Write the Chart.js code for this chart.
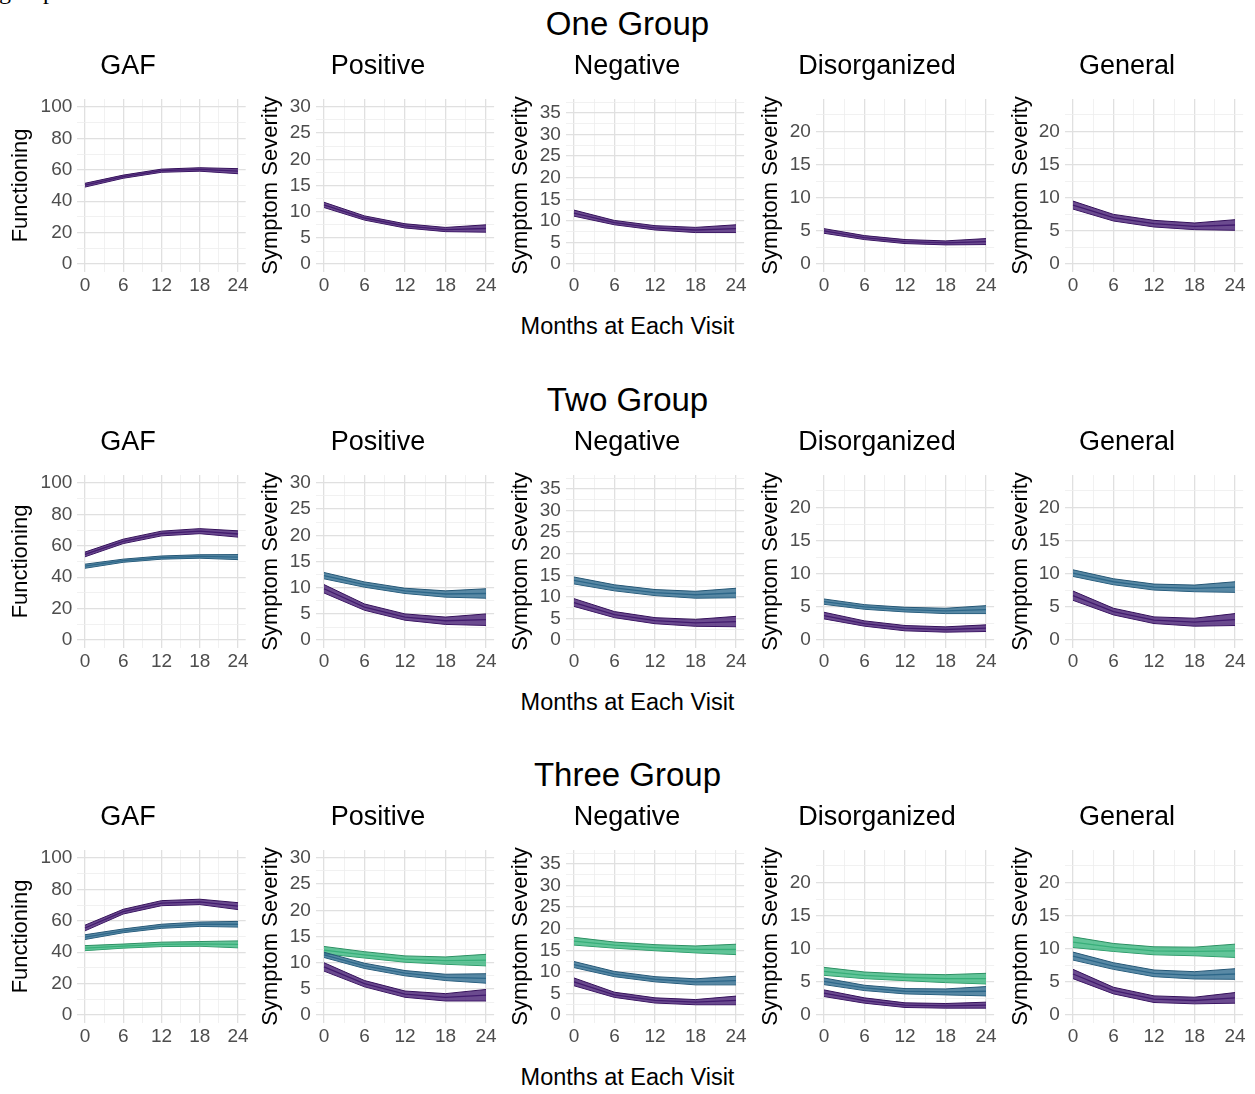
<!DOCTYPE html>
<html><head><meta charset="utf-8">
<script src="https://cdn.jsdelivr.net/npm/chart.js@4.4.0/dist/chart.umd.min.js"></script>
<style>
html,body{margin:0;padding:0;background:#fff;}
body{width:1255px;height:1094px;position:relative;overflow:hidden;font-family:"Liberation Sans",Arial,sans-serif;}
canvas{position:absolute;}
.gt{position:absolute;left:0;width:1255px;text-align:center;font-size:33px;color:#000;line-height:1;white-space:nowrap;}
.xt{position:absolute;left:0;width:1255px;text-align:center;font-size:23.5px;color:#000;line-height:1;white-space:nowrap;}
.cut{position:absolute;left:-1px;top:-21px;font-family:"Liberation Serif","Times New Roman",serif;font-size:24px;line-height:1;color:#000;}
</style></head><body>
<div class="cut">group</div>
<script>
// ---------- data ----------
const months = [0, 6, 12, 18, 24];
const xTicks = [0, 3, 6, 9, 12, 15, 18, 21, 24];
const xTickLabels = [0, 6, 12, 18, 24];
const groupTitles = ['One Group', 'Two Group', 'Three Group'];
const panelNames = ['GAF', 'Positive', 'Negative', 'Disorganized', 'General'];
const yAxisTitles = ['Functioning', 'Symptom Severity', 'Symptom Severity', 'Symptom Severity', 'Symptom Severity'];
const xAxisTitle = 'Months at Each Visit';

const gafTicks = [0, 20, 40, 60, 80, 100];
const posTicks = [0, 5, 10, 15, 20, 25, 30];
const negTicks = [0, 5, 10, 15, 20, 25, 30, 35];
const disTicks = [0, 5, 10, 15, 20];
const genTicks = [0, 5, 10, 15, 20];

// One Group
const one_GAF_g1 = [50.2, 55.6, 59.4, 60.2, 59.1];       const one_GAF_g1_ci = [1.2, 1.0, 1.0, 1.1, 1.6];
const one_Pos_g1 = [11.3, 8.8, 7.3, 6.6, 6.8];           const one_Pos_g1_ci = [0.5, 0.4, 0.4, 0.4, 0.7];
const one_Neg_g1 = [11.8, 9.6, 8.4, 7.9, 8.2];           const one_Neg_g1_ci = [0.7, 0.5, 0.5, 0.6, 0.9];
const one_Dis_g1 = [5.0, 4.0, 3.4, 3.2, 3.4];            const one_Dis_g1_ci = [0.35, 0.3, 0.3, 0.3, 0.45];
const one_Gen_g1 = [8.9, 7.0, 6.1, 5.7, 5.9];            const one_Gen_g1_ci = [0.6, 0.5, 0.5, 0.5, 0.8];

// Two Group
const two_GAF_g1 = [54.5, 62.8, 67.8, 69.3, 67.5];       const two_GAF_g1_ci = [1.5, 1.4, 1.5, 1.6, 2.0];
const two_GAF_g2 = [47.0, 50.5, 52.5, 53.2, 52.8];       const two_GAF_g2_ci = [1.3, 1.0, 1.0, 1.1, 1.6];
const two_Pos_g1 = [9.8, 6.3, 4.4, 3.7, 3.9];            const two_Pos_g1_ci = [0.8, 0.6, 0.6, 0.7, 1.1];
const two_Pos_g2 = [12.3, 10.6, 9.4, 8.8, 8.9];          const two_Pos_g2_ci = [0.6, 0.5, 0.5, 0.6, 0.9];
const two_Neg_g1 = [8.7, 5.9, 4.5, 4.0, 4.3];            const two_Neg_g1_ci = [0.9, 0.7, 0.7, 0.8, 1.2];
const two_Neg_g2 = [13.8, 12.1, 11.0, 10.5, 10.9];       const two_Neg_g2_ci = [0.8, 0.7, 0.7, 0.8, 1.1];
const two_Dis_g1 = [3.7, 2.5, 1.8, 1.6, 1.8];            const two_Dis_g1_ci = [0.5, 0.4, 0.4, 0.4, 0.5];
const two_Dis_g2 = [5.8, 5.0, 4.6, 4.4, 4.6];            const two_Dis_g2_ci = [0.4, 0.35, 0.35, 0.4, 0.6];
const two_Gen_g1 = [6.7, 4.3, 3.0, 2.7, 3.1];            const two_Gen_g1_ci = [0.7, 0.5, 0.5, 0.6, 0.9];
const two_Gen_g2 = [10.1, 8.8, 8.0, 7.8, 8.0];           const two_Gen_g2_ci = [0.5, 0.45, 0.45, 0.5, 0.8];

// Three Group
const three_GAF_g1 = [55.4, 65.8, 71.2, 72.0, 69.3];     const three_GAF_g1_ci = [1.8, 1.5, 1.6, 1.7, 2.2];
const three_GAF_g2 = [49.6, 53.6, 56.5, 57.8, 57.8];     const three_GAF_g2_ci = [1.5, 1.2, 1.3, 1.4, 1.8];
const three_GAF_g3 = [42.6, 43.9, 45.0, 45.3, 45.0];     const three_GAF_g3_ci = [1.6, 1.3, 1.4, 1.5, 2.2];
const three_Pos_g1 = [9.2, 6.0, 4.0, 3.4, 3.8];          const three_Pos_g1_ci = [0.8, 0.6, 0.6, 0.7, 1.1];
const three_Pos_g2 = [11.5, 9.4, 8.0, 7.2, 7.0];         const three_Pos_g2_ci = [0.5, 0.5, 0.5, 0.6, 0.9];
const three_Pos_g3 = [12.4, 11.5, 10.7, 10.4, 10.5];     const three_Pos_g3_ci = [0.7, 0.6, 0.6, 0.7, 1.1];
const three_Neg_g1 = [7.7, 4.7, 3.4, 3.0, 3.4];          const three_Neg_g1_ci = [0.9, 0.6, 0.6, 0.6, 1.0];
const three_Neg_g2 = [11.7, 9.5, 8.3, 7.7, 8.0];         const three_Neg_g2_ci = [0.7, 0.6, 0.6, 0.7, 1.0];
const three_Neg_g3 = [17.1, 16.2, 15.6, 15.2, 15.2];     const three_Neg_g3_ci = [0.9, 0.7, 0.7, 0.8, 1.2];
const three_Dis_g1 = [3.3, 2.2, 1.5, 1.4, 1.5];          const three_Dis_g1_ci = [0.5, 0.4, 0.35, 0.35, 0.45];
const three_Dis_g2 = [5.1, 4.1, 3.6, 3.5, 3.6];          const three_Dis_g2_ci = [0.5, 0.4, 0.4, 0.45, 0.7];
const three_Dis_g3 = [6.6, 6.0, 5.7, 5.5, 5.5];          const three_Dis_g3_ci = [0.6, 0.5, 0.5, 0.6, 0.8];
const three_Gen_g1 = [6.2, 3.7, 2.4, 2.2, 2.6];          const three_Gen_g1_ci = [0.7, 0.5, 0.5, 0.5, 0.8];
const three_Gen_g2 = [8.9, 7.4, 6.3, 6.0, 6.2];          const three_Gen_g2_ci = [0.6, 0.5, 0.5, 0.55, 0.8];
const three_Gen_g3 = [11.0, 10.2, 9.7, 9.6, 9.7];        const three_Gen_g3_ci = [0.8, 0.6, 0.6, 0.65, 1.0];

// ---------- styling / layout ----------
const FONT = '"Liberation Sans", Arial, sans-serif';
const fillColors = ['rgba(70,30,115,0.8)', 'rgba(47,107,142,0.8)', 'rgba(59,182,127,0.8)'];
const lineColors = ['#34105a', '#245675', '#2b8f62'];

const panelY = [
  {min: -5, max: 105, ticks: gafTicks},
  {min: -1.5, max: 31.5, ticks: posTicks},
  {min: -1.82, max: 38.2, ticks: negTicks},
  {min: -1.19, max: 24.9, ticks: disTicks},
  {min: -1.19, max: 24.9, ticks: genTicks}
];
const colLeft = [0, 250, 500, 750, 1000];
const areaLeft = [77.3, 65.9, 65.9, 65.9, 64.9];
const areaRight = [245.7, 244.1, 244.1, 244.1, 243.1];
const padLeft = [10.3, 11.9, 9.9, 9.9, 10.9];
const rowTop = [41, 417, 792];
const CW = 255, CH = 265;

const rows = [
  [[[one_GAF_g1, one_GAF_g1_ci]], [[one_Pos_g1, one_Pos_g1_ci]], [[one_Neg_g1, one_Neg_g1_ci]], [[one_Dis_g1, one_Dis_g1_ci]], [[one_Gen_g1, one_Gen_g1_ci]]],
  [[[two_GAF_g1, two_GAF_g1_ci], [two_GAF_g2, two_GAF_g2_ci]],
   [[two_Pos_g1, two_Pos_g1_ci], [two_Pos_g2, two_Pos_g2_ci]],
   [[two_Neg_g1, two_Neg_g1_ci], [two_Neg_g2, two_Neg_g2_ci]],
   [[two_Dis_g1, two_Dis_g1_ci], [two_Dis_g2, two_Dis_g2_ci]],
   [[two_Gen_g1, two_Gen_g1_ci], [two_Gen_g2, two_Gen_g2_ci]]],
  [[[three_GAF_g1, three_GAF_g1_ci], [three_GAF_g2, three_GAF_g2_ci], [three_GAF_g3, three_GAF_g3_ci]],
   [[three_Pos_g1, three_Pos_g1_ci], [three_Pos_g2, three_Pos_g2_ci], [three_Pos_g3, three_Pos_g3_ci]],
   [[three_Neg_g1, three_Neg_g1_ci], [three_Neg_g2, three_Neg_g2_ci], [three_Neg_g3, three_Neg_g3_ci]],
   [[three_Dis_g1, three_Dis_g1_ci], [three_Dis_g2, three_Dis_g2_ci], [three_Dis_g3, three_Dis_g3_ci]],
   [[three_Gen_g1, three_Gen_g1_ci], [three_Gen_g2, three_Gen_g2_ci], [three_Gen_g3, three_Gen_g3_ci]]]
];

function pts(arr) { return months.map((m, i) => ({x: m, y: arr[i]})); }

function groupDatasets(mean, ci, g) {
  const hi = mean.map((v, i) => v + ci[i]);
  const lo = mean.map((v, i) => v - ci[i]);
  const base = {pointRadius: 0, tension: 0, borderColor: lineColors[g]};
  return [
    Object.assign({}, base, {data: pts(hi), borderWidth: 1, fill: '+1', backgroundColor: fillColors[g]}),
    Object.assign({}, base, {data: pts(lo), borderWidth: 1, fill: false}),
    Object.assign({}, base, {data: pts(mean), borderWidth: 1.3, fill: false})
  ];
}

function gridStyle(majors) {
  return {
    drawTicks: false,
    color: c => (c.tick && majors.includes(c.tick.value)) ? '#e0e0e0' : '#ededed',
    lineWidth: c => (c.tick && majors.includes(c.tick.value)) ? 1.3 : 0.8
  };
}

function addText(cls, text, top) {
  const d = document.createElement('div');
  d.className = cls; d.textContent = text; d.style.top = top + 'px';
  document.body.appendChild(d);
}

const groupTitleTop = [7, 383, 758];
const xTitleTop = [315, 691, 1066];

rows.forEach((row, r) => {
  addText('gt', groupTitles[r], groupTitleTop[r]);
  addText('xt', xAxisTitle, xTitleTop[r]);
  row.forEach((series, c) => {
    const cv = document.createElement('canvas');
    cv.width = CW; cv.height = CH;
    cv.style.left = colLeft[c] + 'px'; cv.style.top = rowTop[r] + 'px';
    cv.style.width = CW + 'px'; cv.style.height = CH + 'px';
    document.body.appendChild(cv);
    const py = panelY[c];
    const step = py.ticks[1] - py.ticks[0];
    const yAll = [];
    py.ticks.forEach(v => { yAll.push(v); if (v + step / 2 <= py.max) yAll.push(v + step / 2); });
    let datasets = [];
    series.forEach((s, g) => { datasets = datasets.concat(groupDatasets(s[0], s[1], g)); });
    new Chart(cv, {
      type: 'line',
      data: {datasets},
      options: {
        responsive: false, animation: false, devicePixelRatio: 1,
        layout: {padding: {left: padLeft[c], right: CW - areaRight[c], top: 0, bottom: 0}},
        plugins: {
          legend: {display: false}, tooltip: {enabled: false},
          title: {display: true, text: panelNames[c], color: '#000',
                  font: {family: FONT, size: 27, weight: 'normal', lineHeight: 1.2},
                  padding: {top: 9.3, bottom: 16.3}}
        },
        scales: {
          x: {
            type: 'linear', min: -1.2, max: 25.2,
            afterBuildTicks: s => { s.ticks = xTicks.map(v => ({value: v})); },
            afterFit: s => { s.height = CH - 231; },
            ticks: {autoSkip: false, maxRotation: 0, padding: 2, color: '#4d4d4d',
                    font: {family: FONT, size: 19},
                    callback: v => xTickLabels.includes(v) ? String(v) : ''},
            grid: gridStyle(xTickLabels),
            border: {display: false}
          },
          y: {
            type: 'linear', min: py.min, max: py.max,
            afterBuildTicks: s => { s.ticks = yAll.map(v => ({value: v})); },
            afterFit: s => { s.width = areaLeft[c] - padLeft[c]; },
            ticks: {autoSkip: false, padding: 5, color: '#4d4d4d',
                    font: {family: FONT, size: 19},
                    callback: v => py.ticks.includes(v) ? String(v) : ''},
            grid: gridStyle(py.ticks),
            border: {display: false},
            title: {display: true, text: yAxisTitles[c], color: '#000',
                    font: {family: FONT, size: 22, lineHeight: 1.2},
                    padding: {top: 21 - 13.2 - padLeft[c], bottom: 0}}
          }
        }
      }
    });
  });
});
</script>
</body></html>
